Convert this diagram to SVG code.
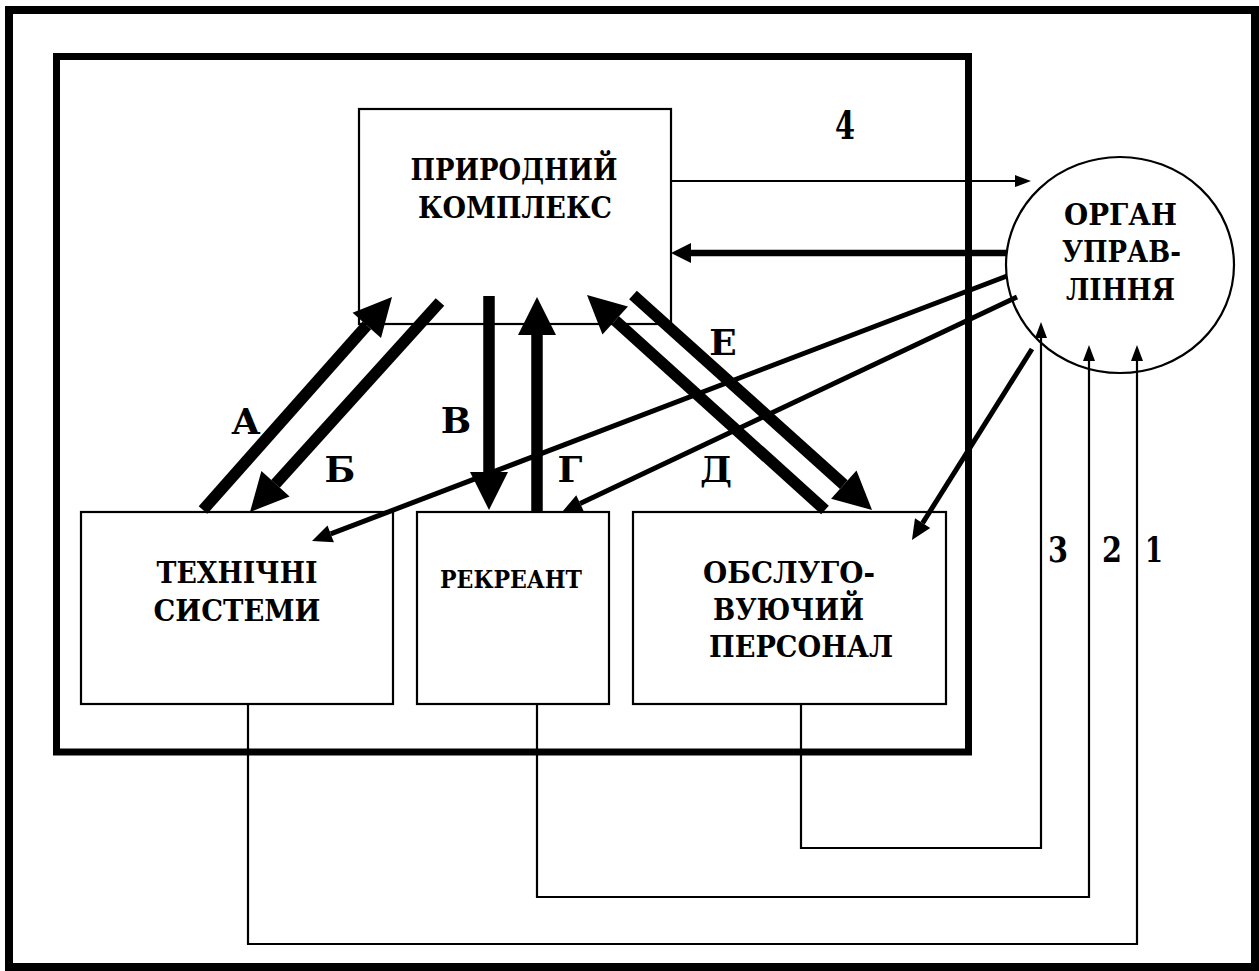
<svg xmlns="http://www.w3.org/2000/svg" width="1259" height="971" viewBox="0 0 1259 971">
<style>
.frame{fill:none;stroke:#000}
.box{fill:none;stroke:#000;stroke-width:2.2}
.lbl{font-family:"DejaVu Serif","Liberation Serif","Times New Roman",serif;font-weight:bold;fill:#000;text-anchor:middle}
.big{font-size:29.5px}
.mid{font-size:24px}
.let{font-size:36px}
.thin{fill:none;stroke:#000;stroke-width:2.2}
.fat{fill:none;stroke:#000;stroke-width:11.5}
.med{fill:none;stroke:#000;stroke-width:5}
.hor{fill:none;stroke:#000;stroke-width:6.5}
</style>
<defs>
<marker id="hBig" markerUnits="userSpaceOnUse" markerWidth="40" markerHeight="40" refX="0" refY="19" orient="auto" overflow="visible"><path d="M0,0 L38,19 L0,38 Z" fill="#000"/></marker>
<marker id="hMed" markerUnits="userSpaceOnUse" markerWidth="22" markerHeight="20" refX="0" refY="9" orient="auto" overflow="visible"><path d="M0,0 L20,9 L0,18 Z" fill="#000"/></marker>
<marker id="hHor" markerUnits="userSpaceOnUse" markerWidth="22" markerHeight="22" refX="0" refY="10" orient="auto" overflow="visible"><path d="M0,0 L20,10 L0,20 Z" fill="#000"/></marker>
<marker id="hSm" markerUnits="userSpaceOnUse" markerWidth="18" markerHeight="14" refX="0" refY="6" orient="auto" overflow="visible"><path d="M0,0 L16,6 L0,12 Z" fill="#000"/></marker>
</defs>
<rect width="1259" height="971" fill="#fff"/>
<rect id="outer-frame" class="frame" x="9" y="10" width="1246" height="957" stroke-width="8"/>
<rect id="inner-frame" class="frame" x="56.5" y="56.5" width="912" height="695.5" stroke-width="7"/>

<g id="natural-complex">
<rect class="box" x="359" y="109" width="312" height="215"/>
<text class="lbl big" x="514" y="180" textLength="207" lengthAdjust="spacingAndGlyphs">ПРИРОДНИЙ</text>
<text class="lbl big" x="515" y="218" textLength="194" lengthAdjust="spacingAndGlyphs">КОМПЛЕКС</text>
</g>

<g id="technical-systems">
<rect class="box" x="81" y="512" width="312" height="192"/>
<text class="lbl big" x="237" y="583" textLength="161" lengthAdjust="spacingAndGlyphs">ТЕХНІЧНІ</text>
<text class="lbl big" x="237" y="621" textLength="167" lengthAdjust="spacingAndGlyphs">СИСТЕМИ</text>
</g>

<g id="recreant">
<rect class="box" x="417" y="512" width="192" height="192"/>
<text class="lbl mid" x="511" y="588" textLength="142" lengthAdjust="spacingAndGlyphs">РЕКРЕАНТ</text>
</g>

<g id="staff">
<rect class="box" x="633" y="512" width="313" height="192"/>
<text class="lbl big" x="789" y="583" textLength="172" lengthAdjust="spacingAndGlyphs">ОБСЛУГО-</text>
<text class="lbl big" x="788.5" y="620" textLength="151" lengthAdjust="spacingAndGlyphs">ВУЮЧИЙ</text>
<text class="lbl big" x="801" y="657" textLength="184" lengthAdjust="spacingAndGlyphs">ПЕРСОНАЛ</text>
</g>

<g id="management">
<ellipse cx="1120" cy="265" rx="114" ry="108" fill="#fff" stroke="#000" stroke-width="2.2"/>
<text class="lbl big" x="1120.5" y="225" textLength="113" lengthAdjust="spacingAndGlyphs">ОРГАН</text>
<text class="lbl big" x="1121.5" y="262" textLength="119" lengthAdjust="spacingAndGlyphs">УПРАВ-</text>
<text class="lbl big" x="1120.5" y="300" textLength="109" lengthAdjust="spacingAndGlyphs">ЛІННЯ</text>
</g>

<g id="labels">
<text class="lbl let" x="246" y="434">А</text>
<text class="lbl let" x="340" y="482">Б</text>
<text class="lbl let" x="456" y="433">В</text>
<text class="lbl let" x="570" y="482">Г</text>
<text class="lbl let" x="716" y="482">Д</text>
<text class="lbl let" x="723" y="355">Е</text>
<text class="lbl let" x="845" y="139" style="font-size:40px" textLength="20" lengthAdjust="spacingAndGlyphs">4</text>
<text class="lbl let" x="1058" y="562" textLength="20" lengthAdjust="spacingAndGlyphs">3</text>
<text class="lbl let" x="1112" y="562" textLength="20" lengthAdjust="spacingAndGlyphs">2</text>
<text class="lbl let" x="1154" y="562" textLength="18" lengthAdjust="spacingAndGlyphs">1</text>
</g>

<g id="connectors">
<path class="thin" d="M801,704 V848 H1041 V338" marker-end="url(#hSm)"/>
<path class="thin" d="M537,704 V897 H1089 V361" marker-end="url(#hSm)"/>
<path class="thin" d="M248,704 V944 H1137 V361" marker-end="url(#hSm)"/>
<path class="thin" d="M671,181 H1015" marker-end="url(#hSm)"/>
<path class="hor" d="M1007,253 H691" marker-end="url(#hHor)"/>
<path class="med" d="M1007,276 L330.7,533.9" marker-end="url(#hMed)"/>
<path class="med" d="M1017,297 L580.1,503.5" marker-end="url(#hMed)"/>
<path class="med" d="M1032,349 L922.6,523.1" marker-end="url(#hMed)"/>
<path class="fat" d="M203,510 L366.8,325.4" marker-end="url(#hBig)"/>
<path class="fat" d="M440,302 L275.5,483.8" marker-end="url(#hBig)"/>
<path class="fat" d="M489,296 V472" marker-end="url(#hBig)"/>
<path class="fat" d="M537,512 V335" marker-end="url(#hBig)"/>
<path class="fat" d="M825,510 L615.2,320.5" marker-end="url(#hBig)"/>
<path class="fat" d="M633,295 L843.8,484.6" marker-end="url(#hBig)"/>
</g>
</svg>
